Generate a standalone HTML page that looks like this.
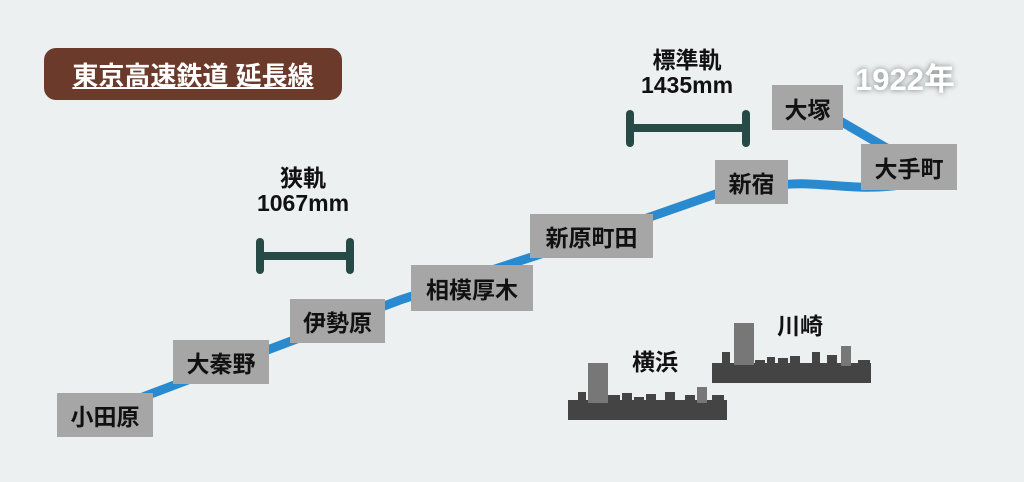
<!DOCTYPE html>
<html><head><meta charset="utf-8"><style>
body{margin:0;width:1024px;height:482px;background:#ecf0f1;position:relative;overflow:hidden;font-family:"Liberation Sans","Noto Sans CJK JP",sans-serif;}
.b{position:absolute;background:#a6a6a6;color:#111;font-weight:bold;font-size:23px;display:flex;align-items:center;justify-content:center;}
.t{position:absolute;color:#111;font-weight:bold;font-size:23px;text-align:center;line-height:25px;}
</style></head><body>
<svg width="1024" height="482" style="position:absolute;left:0;top:0">
<path d="M95,415 L400,300 L590,238 L750,182" stroke="#2a8ad0" stroke-width="9" fill="none"/>
<path d="M780,185 C820,180 850,192 900,185" stroke="#2a8ad0" stroke-width="9" fill="none"/>
<path d="M835,118 L890,150" stroke="#2a8ad0" stroke-width="9" fill="none"/>
<g stroke="#264a45" stroke-width="8" stroke-linecap="round">
<line x1="260" y1="256" x2="350" y2="256"/><line x1="260" y1="242" x2="260" y2="270"/><line x1="350" y1="242" x2="350" y2="270"/>
<line x1="630" y1="128" x2="746" y2="128"/><line x1="630" y1="114" x2="630" y2="143"/><line x1="746" y1="114" x2="746" y2="143"/>
</g>
<g fill="#444">
<rect x="568" y="400" width="159" height="20"/>
<rect x="578" y="392" width="8" height="10"/><rect x="588" y="363" width="20" height="40" fill="#777"/>
<rect x="608" y="395" width="12" height="8"/><rect x="622" y="393" width="10" height="10"/><rect x="634" y="397" width="10" height="6"/>
<rect x="646" y="394" width="10" height="8"/><rect x="665" y="392" width="10" height="10"/><rect x="685" y="395" width="10" height="8"/>
<rect x="697" y="387" width="10" height="16" fill="#777"/><rect x="712" y="395" width="12" height="8"/>
<rect x="712" y="363" width="159" height="20"/>
<rect x="722" y="352" width="8" height="12"/><rect x="734" y="323" width="20" height="42" fill="#777"/>
<rect x="755" y="360" width="10" height="6"/><rect x="767" y="357" width="8" height="8"/><rect x="778" y="358" width="10" height="8"/>
<rect x="790" y="356" width="10" height="10"/><rect x="812" y="352" width="8" height="12"/><rect x="827" y="355" width="10" height="10"/>
<rect x="841" y="346" width="10" height="20" fill="#777"/><rect x="858" y="360" width="12" height="6"/>
</g>
</svg>
<div style="position:absolute;left:44px;top:48px;width:298px;height:52px;background:#6b3a2a;border-radius:12px;color:#fff;font-weight:bold;font-size:26px;display:flex;align-items:center;justify-content:center;text-decoration:underline;">東京高速鉄道 延長線</div>
<div style="position:absolute;left:855px;top:54px;width:130px;color:#fff;font-weight:bold;font-size:31px;text-shadow:0 0 6px rgba(0,0,0,.5);">1922年</div>
<div class="t" style="left:228px;top:166px;width:150px">狭軌<br>1067mm</div>
<div class="t" style="left:612px;top:48px;width:150px">標準軌<br>1435mm</div>
<div class="t" style="left:625px;top:350px;width:60px">横浜</div>
<div class="t" style="left:770px;top:314px;width:60px">川崎</div>
<div class="b" style="left:57px;top:393px;width:96px;height:44px">小田原</div>
<div class="b" style="left:173px;top:340px;width:96px;height:44px">大秦野</div>
<div class="b" style="left:290px;top:299px;width:95px;height:44px">伊勢原</div>
<div class="b" style="left:411px;top:265px;width:122px;height:46px">相模厚木</div>
<div class="b" style="left:530px;top:214px;width:123px;height:44px">新原町田</div>
<div class="b" style="left:715px;top:160px;width:73px;height:44px">新宿</div>
<div class="b" style="left:772px;top:85px;width:71px;height:45px">大塚</div>
<div class="b" style="left:861px;top:144px;width:96px;height:46px">大手町</div>
</body></html>
